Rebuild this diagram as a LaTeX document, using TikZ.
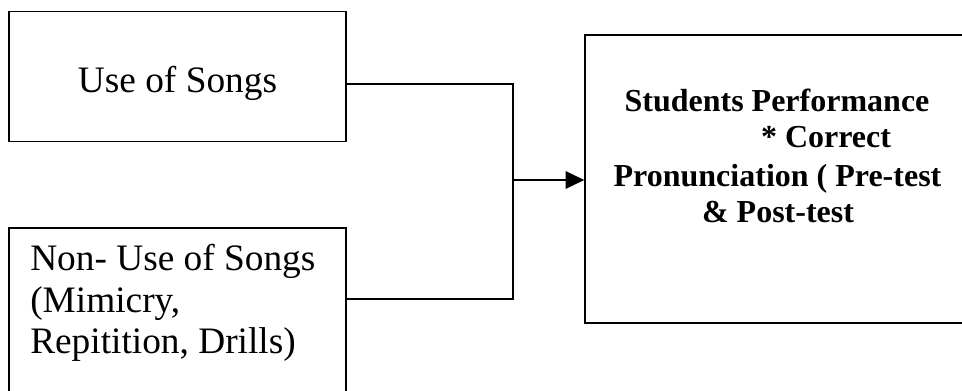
\documentclass[tikz,border=0pt]{standalone}
\usepackage{fontspec}
\setmainfont{Liberation Serif}
\usetikzlibrary{arrows.meta}
\begin{document}
\begin{tikzpicture}[x=0.75pt,y=-0.75pt,
  boxnode/.style={draw, line width=1pt, rectangle, inner sep=0pt},
  conn/.style={line width=1.5pt},
  plain/.style={font=\fontsize{28pt}{34pt}\selectfont, inner sep=0pt},
  boldtxt/.style={font=\fontsize{24pt}{28pt}\selectfont\bfseries, inner sep=0pt}]
\useasboundingbox (0,0) rectangle (962,391);
% boxes
\node[boxnode, minimum width=337*0.75pt, minimum height=130*0.75pt] (use) at (177.5,76.7) {};
\node[boxnode, minimum width=337*0.75pt, minimum height=200*0.75pt] (non) at (177.5,328) {};
\node[boxnode, minimum width=390*0.75pt, minimum height=288*0.75pt] (perf) at (780,179) {};
% texts
\node[plain, anchor=base] (t1) at (177.5,93) {Use of Songs};
\node[plain, anchor=base west] (t2) at (30,271) {Non- Use of Songs};
\node[plain, anchor=base west] (t3) at (30,312) {(Mimicry,};
\node[plain, anchor=base west] (t4) at (30,353) {Repitition, Drills)};
\node[boldtxt, anchor=base] (r1) at (777,112) {Students Performance};
\node[boldtxt, anchor=base] (r2) at (826,148) {* Correct};
\node[boldtxt, anchor=base] (r3) at (777.5,187) {Pronunciation ( Pre-test};
\node[boldtxt, anchor=base] (r4) at (778,223) {\& Post-test};
% connectors
\coordinate (a) at (346,84);
\coordinate (b) at (346,299);
\coordinate (j) at (513,180);
\draw[conn] (a) -| (j);
\draw[conn] (b) -| (j);
\draw[conn, -{Triangle[length=14pt,width=13pt]}] (j) -- (perf.west |- j);
\end{tikzpicture}
\end{document}
